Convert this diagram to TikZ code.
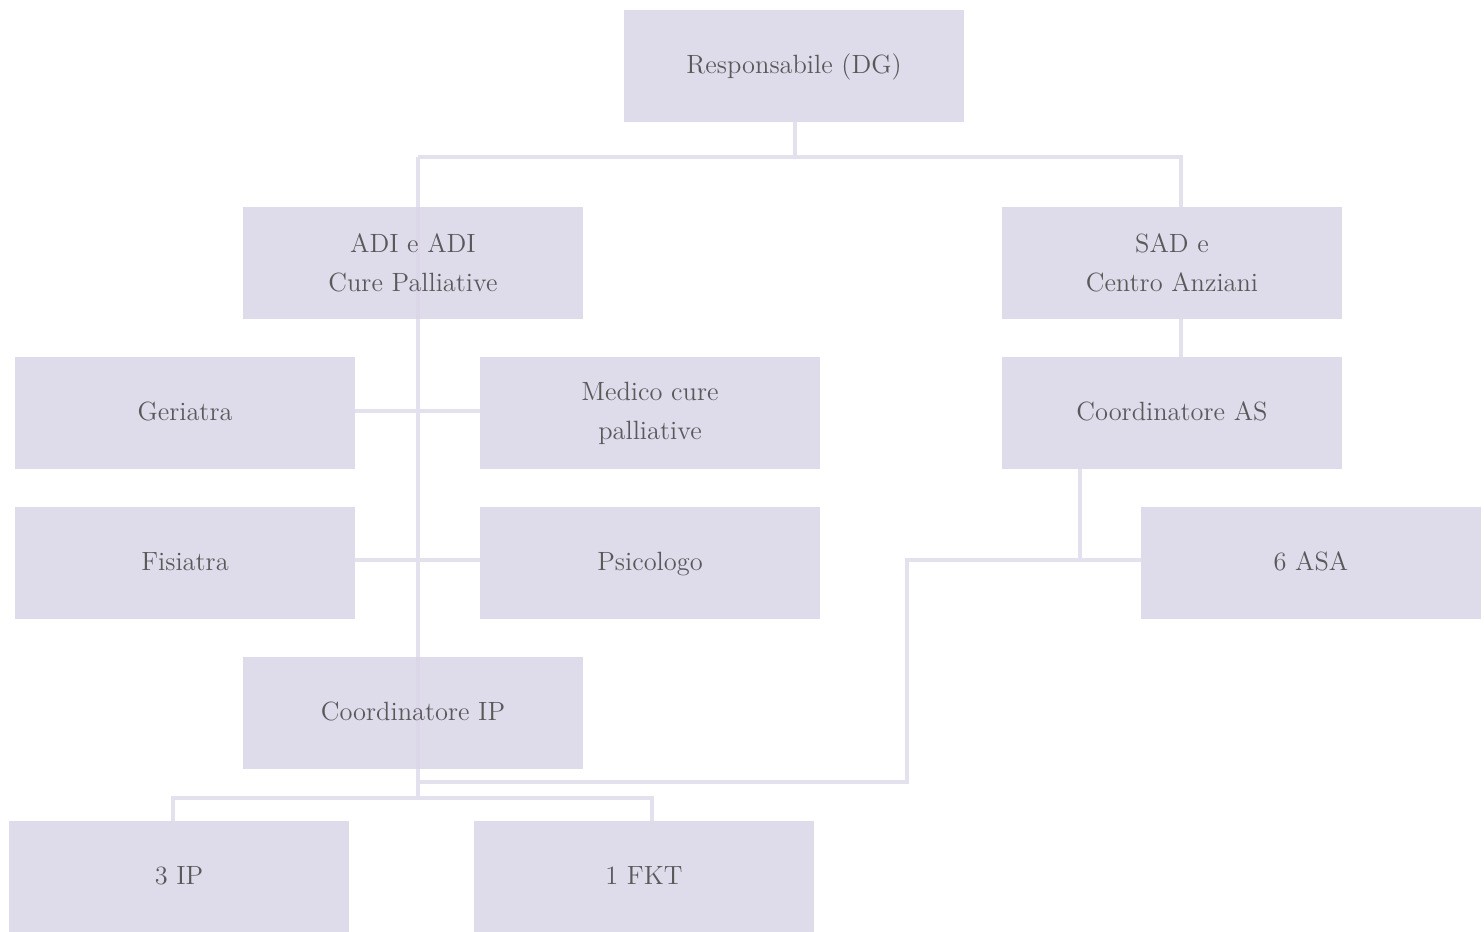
\documentclass[tikz,border=0pt]{standalone}
\usepackage{tikz}
\usetikzlibrary{calc}
\pgfdeclarelayer{background}
\pgfsetlayers{background,main}
\definecolor{boxfill}{HTML}{DAD6E8}
\definecolor{linkcol}{HTML}{E4E1EF}
\definecolor{textcol}{HTML}{595959}
\tikzset{
	unit/.style={fill=boxfill, fill opacity=0.88, text opacity=1, minimum width=170pt, minimum height=56pt,
		inner sep=0pt, outer sep=0pt, text=textcol, align=center, font=\fontsize{13.2}{19.5}\selectfont},
	link/.style={draw=linkcol, line width=2pt}
}

\begin{document}
\begin{tikzpicture}[x=0.5pt, y=-0.5pt]
			%%%%% START %%%%%
			
			\useasboundingbox (0, 0) rectangle (1484, 932);
			
			\node[unit] (dg) at (794, 66) {\strut Responsabile (DG)};
			\node[unit] (adi) at (413, 263) {ADI e ADI\\Cure Palliative};
			\node[unit] (sad) at (1172, 263) {SAD e\\Centro Anziani};
			
			\node[unit] (geriatra) at (185, 413) {\strut Geriatra};
			\node[unit] (medico) at (650, 413) {Medico cure\\palliative};
			\node[unit] (coordas) at (1172, 413) {\strut Coordinatore AS};
			
			\node[unit] (fisiatra) at (185, 563) {\strut Fisiatra};
			\node[unit] (psicologo) at (650, 563) {\strut Psicologo};
			\node[unit] (asa) at (1311, 563) {\strut 6 ASA};
			
			\node[unit] (coordip) at (413, 713) {\strut Coordinatore IP};
			
			\node[unit] (ip) at (179, 877) {\strut 3 IP};
			\node[unit] (fkt) at (644, 877) {\strut 1 FKT};
			
			% bend points
			\coordinate (top) at (795, 157);
			\coordinate (spine) at (418, 157);
			\coordinate (sadtop) at (1181, 157);
			\coordinate (spineend) at (418, 798);
			\coordinate (asbend) at (907, 560);
			\coordinate (asfoot) at (907, 782);
			
			\begin{pgfonlayer}{background}
			\draw[link] (dg.south -| top) -- (top);
			\draw[link] (spine) -- (sadtop) -- (sadtop |- sad.north);
			\draw[link] (spine) -- (spineend);
			\draw[link] (sad.south -| sadtop) -- (coordas.north -| sadtop);
			
			\draw[link] (geriatra.east |- 0, 411) -- (medico.west |- 0, 411);
			\draw[link] (fisiatra.east |- 0, 560) -- (psicologo.west |- 0, 560);
			
			\draw[link] (coordas.south -| 1080, 0) -- (1080, 560);
			\draw[link] (asa.west |- asbend) -- (asbend) -- (asfoot) -- (asfoot -| spine);
			
			\draw[link] (ip.north -| 173, 0) -- (173, 798) -- (652, 798) -- (fkt.north -| 652, 0);
			\end{pgfonlayer}
			
			%%%%% END %%%%%
		\end{tikzpicture}
\end{document}
